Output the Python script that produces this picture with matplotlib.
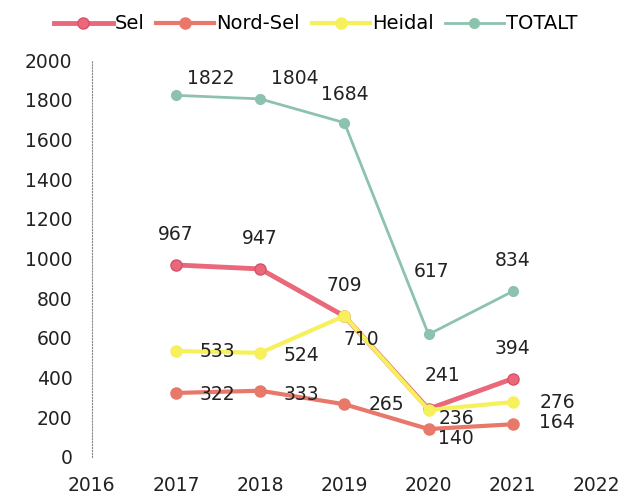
import matplotlib.pyplot as plt

years = [2017, 2018, 2019, 2020, 2021]
sel = [967, 947, 709, 241, 394]
nord_sel = [322, 333, 265, 140, 164]
heidal = [533, 524, 710, 236, 276]
totalt = [1822, 1804, 1684, 617, 834]

plt.rcParams['font.family'] = ['DejaVu Sans']

fig = plt.figure(figsize=(6.25, 4.96), dpi=100)
ax = fig.add_axes([0.147, 0.079, 0.808, 0.80])

ax.plot(years, nord_sel, '-o', color='#e8786a', lw=3, ms=8, label='Nord-Sel', zorder=2)
ax.plot(years, sel, '-o', color='#e9697a', lw=3.5, ms=8, mec='#d9506a', label='Sel', zorder=3)
ax.plot(years, heidal, '-o', color='#f6f05a', lw=3, ms=8, label='Heidal', zorder=4)
ax.plot(years, totalt, '-o', color='#8dc3ae', lw=2, ms=7, label='TOTALT', zorder=2)

# label offsets (points), one per value
off_tot = [(25, 12), (25, 15), (0, 20), (2, 45), (0, 22)]
off_sel = [(0, 22), (0, 22), (0, 22), (10, 24), (0, 22)]
off_hei = [(30, 0), (30, -2), (12, -17), (20, -6), (32, 0)]
off_nor = [(30, -1), (30, -3), (30, 0), (20, -7), (32, 1)]

for vals, offs in [(totalt, off_tot), (sel, off_sel), (heidal, off_hei), (nord_sel, off_nor)]:
    for x, y, o in zip(years, vals, offs):
        ax.annotate(str(y), (x, y), xytext=o, textcoords='offset points',
                    ha='center', va='center', fontsize=13.5, color='#222222', zorder=6)

ax.set_xlim(2016, 2022)
ax.set_ylim(0, 2000)
ax.set_xticks(range(2016, 2023))
ax.set_yticks(range(0, 2001, 200))
ax.tick_params(length=0, labelsize=13.5, colors='#222222')
ax.tick_params(axis='y', pad=14)
ax.tick_params(axis='x', pad=14)
for s in ['top', 'right', 'bottom']:
    ax.spines[s].set_visible(False)
ax.spines['left'].set_linestyle(':')
ax.spines['left'].set_color('#888888')
ax.spines['left'].set_linewidth(0.8)

h, l = ax.get_legend_handles_labels()
order = [1, 0, 2, 3]
fig.legend([h[i] for i in order], [l[i] for i in order], loc='center', ncol=4,
           bbox_to_anchor=(0.505, 0.952), frameon=False, fontsize=14,
           handlelength=3.0, columnspacing=0.6, handletextpad=0.1)

plt.savefig('out.png')
